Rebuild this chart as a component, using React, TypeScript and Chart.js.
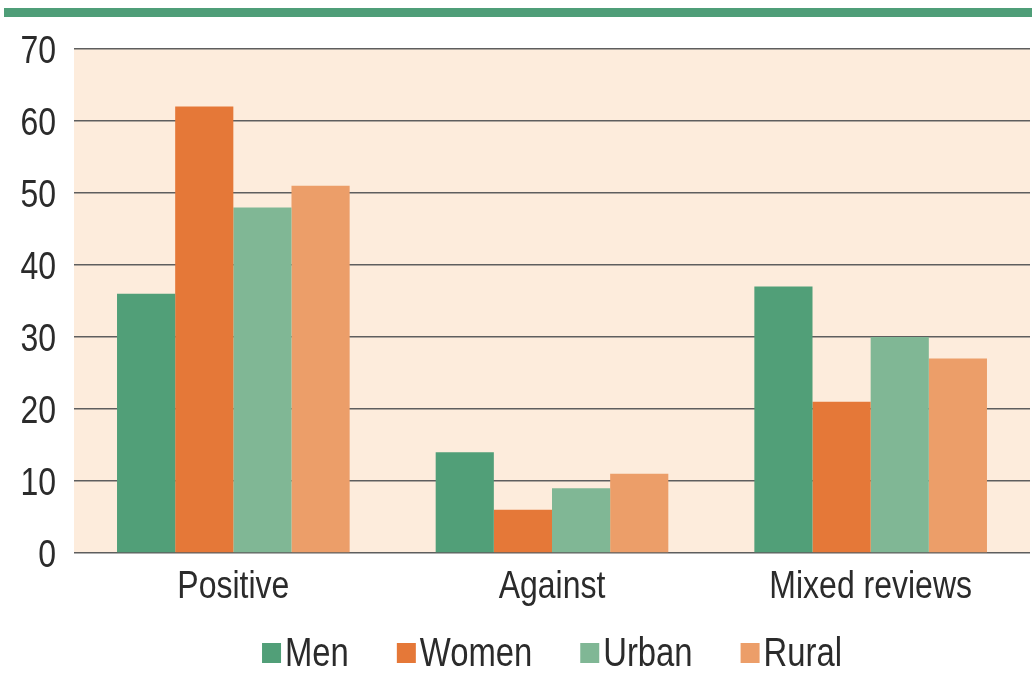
import React, { useEffect, useRef } from "react";
import { Chart, registerables } from "chart.js";

Chart.register(...registerables);

const categories = ["Positive", "Against", "Mixed reviews"];
const seriesNames = ["Men", "Women", "Urban", "Rural"];
const menValues = [36, 14, 37];
const womenValues = [62, 6, 21];
const urbanValues = [48, 9, 30];
const ruralValues = [51, 11, 27];
const yTicks = [0, 10, 20, 30, 40, 50, 60, 70];

const colors = ["#519f78", "#e57838", "#80b795", "#ec9e69"];
const FONT = "'Liberation Sans', Arial, sans-serif";
const TEXT = "#2b2b2b";
const SQUEEZE = 0.82;

function drawSqueezed(ctx: any, text: string, x: number, y: number, align: string) {
  const w = ctx.measureText(text).width * SQUEEZE;
  let left = x;
  if (align === "center") left = x - w / 2;
  else if (align === "right") left = x - w;
  ctx.save();
  ctx.translate(left, y);
  ctx.scale(SQUEEZE, 1);
  ctx.textAlign = "left";
  ctx.textBaseline = "alphabetic";
  ctx.fillText(text, 0, 0);
  ctx.restore();
  return w;
}

const bgPlugin = {
  id: "bgPlugin",
  beforeDraw(chart: any) {
    const { ctx, chartArea } = chart;
    ctx.save();
    ctx.fillStyle = "#fdecdc";
    ctx.fillRect(chartArea.left, chartArea.top, chartArea.right - chartArea.left, chartArea.bottom - chartArea.top);
    ctx.fillStyle = "#4f9e78";
    ctx.fillRect(4, 8, chart.width - 4, 9);
    ctx.restore();
  },
};

const textPlugin = {
  id: "textPlugin",
  afterDraw(chart: any) {
    const { ctx } = chart;
    const xs = chart.scales.x;
    const ys = chart.scales.y;
    ctx.save();
    ctx.fillStyle = TEXT;
    // y tick labels
    ctx.font = `39px ${FONT}`;
    ys.ticks.forEach((t: any) => {
      const py = ys.getPixelForValue(t.value);
      drawSqueezed(ctx, String(t.value), 56, py + 14, "right");
    });
    // x category labels
    ctx.font = `39px ${FONT}`;
    chart.data.labels.forEach((lab: string, i: number) => {
      const px = xs.getPixelForValue(i);
      drawSqueezed(ctx, lab, px, 598, "center");
    });
    // legend
    ctx.font = `40px ${FONT}`;
    const ds = chart.data.datasets;
    const boxW = 19;
    const boxH = 20;
    const gapBoxText = 4;
    const itemGap = 48;
    const widths = ds.map((d: any) => boxW + gapBoxText + ctx.measureText(d.label).width * SQUEEZE);
    const total = widths.reduce((a: number, b: number) => a + b, 0) + itemGap * (ds.length - 1);
    let x = (chart.chartArea.left + chart.chartArea.right) / 2 - total / 2;
    ds.forEach((d: any, i: number) => {
      ctx.fillStyle = d.backgroundColor;
      ctx.fillRect(x, 643, boxW, boxH);
      ctx.fillStyle = TEXT;
      drawSqueezed(ctx, d.label, x + boxW + gapBoxText, 666, "left");
      x += widths[i] + itemGap;
    });
    ctx.restore();
  },
};

export default function App() {
  const ref = useRef<HTMLCanvasElement | null>(null);
  useEffect(() => {
    document.body.style.margin = "0";
    const values = [menValues, womenValues, urbanValues, ruralValues];
    const chart = new Chart(ref.current as HTMLCanvasElement, {
      type: "bar",
      data: {
        labels: categories,
        datasets: seriesNames.map((name, i) => ({
          label: name,
          data: values[i],
          backgroundColor: colors[i],
          borderWidth: 0,
          categoryPercentage: 0.73,
          barPercentage: 1.0,
        })),
      },
      options: {
        animation: false,
        responsive: false,
        maintainAspectRatio: false,
        layout: { padding: { top: 49, right: 2, bottom: 0, left: 0 } },
        plugins: { legend: { display: false }, tooltip: { enabled: false } },
        scales: {
          x: {
            grid: { display: false, drawTicks: false },
            border: { display: false },
            ticks: { display: false },
            afterFit: (s: any) => {
              s.height = 121;
            },
          },
          y: {
            min: 0,
            max: 70,
            afterBuildTicks: (s: any) => {
              s.ticks = yTicks.map((v) => ({ value: v }));
            },
            grid: { color: "#5e5e5e", lineWidth: 1.6, drawTicks: false },
            border: { display: false },
            ticks: { display: false },
            afterFit: (s: any) => {
              s.width = 74;
            },
          },
        },
      },
      plugins: [bgPlugin, textPlugin],
    });
    return () => chart.destroy();
  }, []);
  return <canvas ref={ref} width={1032} height={674} style={{ display: "block" }} />;
}
